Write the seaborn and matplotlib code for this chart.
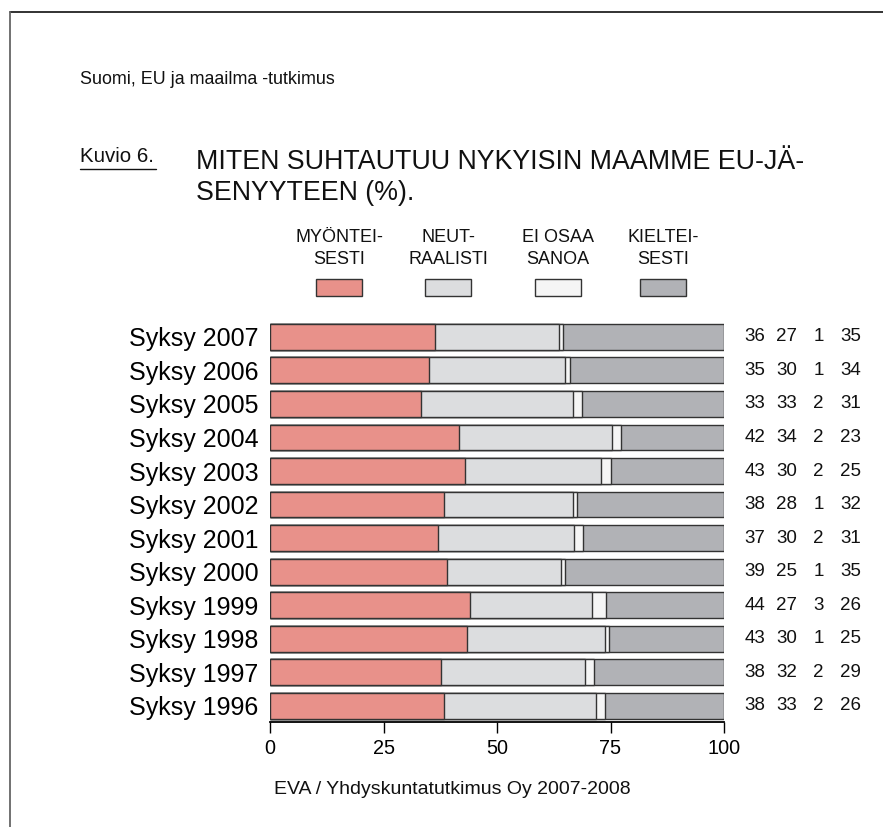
import pandas as pd
import matplotlib.pyplot as plt
import seaborn as sns
from matplotlib.patches import Rectangle
from matplotlib.lines import Line2D

# Data
years = ["Syksy 2007", "Syksy 2006", "Syksy 2005", "Syksy 2004", "Syksy 2003", "Syksy 2002",
         "Syksy 2001", "Syksy 2000", "Syksy 1999", "Syksy 1998", "Syksy 1997", "Syksy 1996"]
myonteisesti = [36, 35, 33, 42, 43, 38, 37, 39, 44, 43, 38, 38]
neutraalisti = [27, 30, 33, 34, 30, 28, 30, 25, 27, 30, 32, 33]
ei_osaa = [1, 1, 2, 2, 2, 1, 2, 1, 3, 1, 2, 2]
kielteisesti = [35, 34, 31, 23, 25, 32, 31, 35, 26, 25, 29, 26]

legend_labels = [("MYÖNTEI-", "SESTI"), ("NEUT-", "RAALISTI"), ("EI OSAA", "SANOA"), ("KIELTEI-", "SESTI")]
colors = ["#E8918A", "#DCDDDF", "#F5F5F5", "#B1B2B6"]
xticks = [0, 25, 50, 75, 100]

sns.set_theme(style="white")
plt.rcParams["font.family"] = ["Liberation Sans", "DejaVu Sans"]

df = pd.DataFrame({"year": years, "m": myonteisesti, "n": neutraalisti,
                   "e": ei_osaa, "k": kielteisesti})
total = df[["m", "n", "e", "k"]].sum(axis=1)
df["c1"] = df["m"] / total * 100
df["c2"] = (df["m"] + df["n"]) / total * 100
df["c3"] = (df["m"] + df["n"] + df["e"]) / total * 100
df["c4"] = 100.0

W, H = 883, 827
fig = plt.figure(figsize=(W / 100, H / 100), dpi=100)
ax = fig.add_axes([270 / W, 1 - 722 / H, 454 / W, 402 / H])

# stacked bars drawn back to front
for col, color in zip(["c4", "c3", "c2", "c1"], colors[::-1]):
    sns.barplot(data=df, x=col, y="year", color=color, orient="h", width=0.77,
                edgecolor="#333333", linewidth=1.0, saturation=1, ax=ax)

ax.set_xlim(0, 100)
ax.set_ylim(11.48, -0.5)
ax.set_xlabel("")
ax.set_ylabel("")
for s in ["top", "right", "left"]:
    ax.spines[s].set_visible(False)
ax.spines["bottom"].set_color("black")
ax.spines["bottom"].set_linewidth(1.3)
ax.set_xticks(xticks)
ax.tick_params(axis="x", bottom=True, length=8, width=1, color="black",
               labelsize=14.3, pad=4, labelcolor="black")
ax.tick_params(axis="y", left=False, length=0, labelsize=18, pad=8.5, labelcolor="black")

# numbers to the right of bars
col_x = [(755 - 270) / 454, (786.5 - 270) / 454, (818.5 - 270) / 454, (850.5 - 270) / 454]
tr = ax.get_yaxis_transform()
for i in range(len(years)):
    vals = [myonteisesti[i], neutraalisti[i], ei_osaa[i], kielteisesti[i]]
    for x, v in zip(col_x, vals):
        ax.text(x, i, str(v), transform=tr, ha="center", va="center",
                fontsize=13.5, color="#111111")

# legend
leg_x = [316, 425, 535, 640]
for x, (l1, l2), c in zip(leg_x, legend_labels, colors):
    fig.patches.append(Rectangle((x / W, 1 - 296 / H), 46 / W, 17 / H, transform=fig.transFigure,
                                 facecolor=c, edgecolor="#333333", linewidth=1.0))
    fig.text((x + 23) / W, 1 - 237 / H, l1, ha="center", va="center", fontsize=13, color="#111111")
    fig.text((x + 23) / W, 1 - 259 / H, l2, ha="center", va="center", fontsize=13, color="#111111")

# titles
fig.text(80 / W, 1 - 80 / H, "Suomi, EU ja maailma -tutkimus", ha="left", va="center",
         fontsize=12.9, color="#111111")
fig.text(80 / W, 1 - 156 / H, "Kuvio 6.", ha="left", va="center", fontsize=14.8, color="#111111")
fig.lines.append(Line2D([80 / W, 156 / W], [1 - 168.5 / H, 1 - 168.5 / H], transform=fig.transFigure,
                        color="#111111", linewidth=1))
fig.text(196 / W, 1 - 162 / H, "MITEN SUHTAUTUU NYKYISIN MAAMME EU-JÄ-",
         ha="left", va="center", fontsize=19.3, color="#111111")
fig.text(196 / W, 1 - 193 / H, "SENYYTEEN (%).",
         ha="left", va="center", fontsize=19.3, color="#111111")

fig.text(452 / W, 1 - 790 / H, "EVA / Yhdyskuntatutkimus Oy 2007-2008", ha="center", va="center",
         fontsize=14, color="#111111")

# frame lines
fig.lines.append(Line2D([10 / W, 1], [1 - 11.5 / H, 1 - 11.5 / H], transform=fig.transFigure,
                        color="#222222", linewidth=1.3))
fig.lines.append(Line2D([9.5 / W, 9.5 / W], [1 - 11.5 / H, 0], transform=fig.transFigure,
                        color="#666666", linewidth=1.3))

fig.savefig("out.png", dpi=100)
